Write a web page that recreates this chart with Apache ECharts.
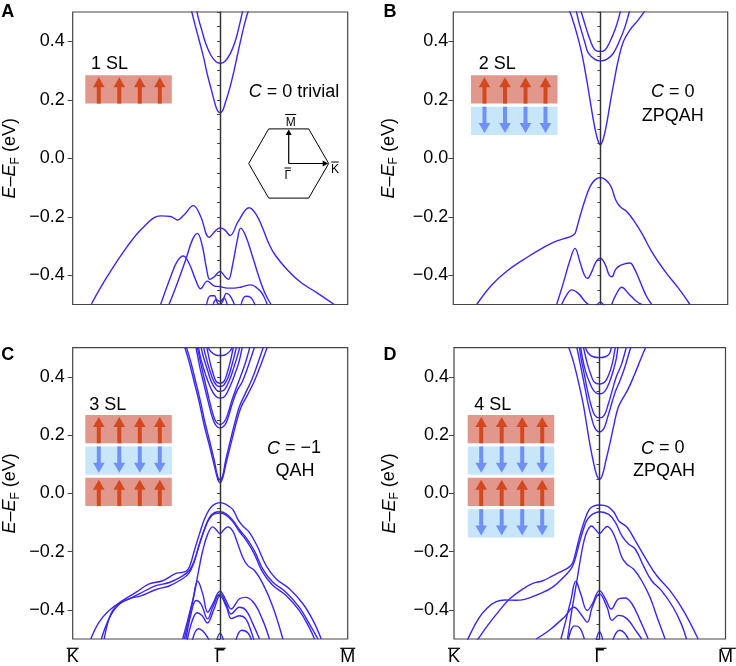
<!DOCTYPE html>
<html><head><meta charset="utf-8">
<script src="https://cdn.jsdelivr.net/npm/echarts@6/dist/echarts.min.js"></script>
<style>html,body{margin:0;padding:0;background:#fff}#c{width:736px;height:666px}</style>
</head><body><div id="c"></div>
<script>
// ---------- axis definitions ----------
const xMin = -1.1547, xMax = 1;
const xTickValues = [-1.1547, 0, 1];
const xTickLabels = ['K', 'Γ', 'M'];
const yMajorTicks = [-0.4, -0.2, 0, 0.2, 0.4];
const yMin = -0.5, yMax = 0.5, yMinorStep = 0.05;

// ---------- Panel A (1 SL) bands [k, E(eV)] ----------
const A_cb1 = [[-0.23,0.515],[-0.196,0.456],[-0.165,0.405],[-0.131,0.348],[-0.099,0.285],[-0.068,0.234],[-0.04,0.187],[-0.02,0.163],[0,0.156],[0.02,0.163],[0.04,0.188],[0.071,0.232],[0.102,0.285],[0.136,0.353],[0.168,0.416],[0.2,0.473],[0.23,0.515]];
const A_cb2 = [[-0.185,0.515],[-0.173,0.484],[-0.144,0.439],[-0.113,0.393],[-0.073,0.353],[-0.034,0.331],[0,0.325],[0.037,0.331],[0.079,0.357],[0.118,0.399],[0.149,0.45],[0.173,0.496],[0.18,0.515]];
const A_vb1 = [[-1.01,-0.5],[-0.885,-0.405],[-0.728,-0.302],[-0.597,-0.234],[-0.466,-0.197],[-0.387,-0.199],[-0.335,-0.211],[-0.283,-0.194],[-0.209,-0.162],[-0.152,-0.199],[-0.086,-0.27],[-0.034,-0.247],[0,-0.238],[0.037,-0.245],[0.079,-0.264],[0.141,-0.217],[0.228,-0.169],[0.28,-0.19],[0.33,-0.235],[0.38,-0.29],[0.43,-0.33],[0.53,-0.383],[0.634,-0.425],[0.76,-0.46],[0.895,-0.5]];
const A_vb2 = [[-0.4,-0.5],[-0.335,-0.427],[-0.27,-0.348],[-0.217,-0.279],[-0.178,-0.257],[-0.139,-0.3],[-0.105,-0.38],[-0.08,-0.414],[-0.045,-0.405],[0,-0.387],[0.04,-0.405],[0.065,-0.414],[0.1,-0.36],[0.135,-0.28],[0.162,-0.239],[0.2,-0.265],[0.25,-0.33],[0.3,-0.4],[0.35,-0.46],[0.4,-0.5]];
const A_vb3 = [[-0.466,-0.5],[-0.387,-0.405],[-0.335,-0.352],[-0.288,-0.334],[-0.243,-0.359],[-0.191,-0.416],[-0.152,-0.446],[-0.1,-0.42],[-0.047,-0.436],[0,-0.439],[0.058,-0.444],[0.11,-0.444],[0.168,-0.44],[0.24,-0.433],[0.306,-0.45],[0.34,-0.47],[0.37,-0.5]];
const A_vb4 = [[-0.11,-0.51],[-0.075,-0.47],[-0.045,-0.47],[-0.02,-0.495],[0,-0.5],[0.02,-0.49],[0.05,-0.462],[0.085,-0.475],[0.12,-0.51]];
const A_vb5 = [[0.16,-0.51],[0.2,-0.472],[0.24,-0.476],[0.28,-0.51]];
const A_vb6 = [[-0.06,-0.51],[-0.03,-0.483],[0,-0.49],[0.03,-0.478],[0.06,-0.51]];

// ---------- Panel B (2 SL) ----------
const B_cb1 = [[-0.251,0.513],[-0.225,0.484],[-0.178,0.416],[-0.141,0.348],[-0.107,0.268],[-0.081,0.199],[-0.055,0.131],[-0.034,0.085],[-0.016,0.057],[0,0.046],[0.016,0.057],[0.034,0.085],[0.055,0.131],[0.081,0.199],[0.11,0.268],[0.141,0.336],[0.181,0.399],[0.233,0.439],[0.298,0.473],[0.364,0.513]];
const B_cb2 = [[-0.194,0.515],[-0.173,0.473],[-0.147,0.433],[-0.12,0.393],[-0.094,0.359],[-0.042,0.338],[0,0.333],[0.05,0.338],[0.102,0.359],[0.154,0.405],[0.194,0.45],[0.233,0.51]];
const B_cb3 = [[-0.16,0.515],[-0.147,0.496],[-0.115,0.45],[-0.081,0.405],[-0.042,0.37],[0,0.365],[0.037,0.37],[0.076,0.399],[0.115,0.439],[0.147,0.484],[0.162,0.515]];
const B_vb1 = [[-0.971,-0.5],[-0.853,-0.433],[-0.723,-0.382],[-0.565,-0.336],[-0.435,-0.302],[-0.356,-0.285],[-0.277,-0.274],[-0.225,-0.266],[-0.2,-0.258],[-0.186,-0.24],[-0.16,-0.199],[-0.12,-0.142],[-0.081,-0.097],[-0.042,-0.074],[0,-0.066],[0.042,-0.074],[0.084,-0.097],[0.12,-0.142],[0.154,-0.165],[0.207,-0.182],[0.259,-0.211],[0.325,-0.256],[0.403,-0.319],[0.508,-0.387],[0.613,-0.444],[0.704,-0.5]];
const B_vb2 = [[-0.343,-0.5],[-0.291,-0.427],[-0.238,-0.348],[-0.199,-0.308],[-0.16,-0.355],[-0.125,-0.4],[-0.1,-0.41],[-0.07,-0.39],[-0.035,-0.355],[0,-0.342],[0.035,-0.36],[0.07,-0.4],[0.09,-0.405],[0.12,-0.38],[0.154,-0.367],[0.2,-0.36],[0.233,-0.358],[0.27,-0.38],[0.32,-0.43],[0.36,-0.47],[0.403,-0.5]];
const B_vb3 = [[-0.304,-0.5],[-0.264,-0.467],[-0.225,-0.45],[-0.173,-0.462],[-0.12,-0.49],[-0.094,-0.5]];
const B_vb4 = [[0.089,-0.5],[0.128,-0.462],[0.168,-0.441],[0.22,-0.462],[0.285,-0.49],[0.325,-0.5]];
const B_vb5 = [[-0.03,-0.505],[0,-0.492],[0.03,-0.505]];

// ---------- Panel C (3 SL) ----------
const C_cb1 = [[-0.283,0.51],[-0.243,0.452],[-0.204,0.384],[-0.165,0.316],[-0.126,0.236],[-0.086,0.168],[-0.047,0.099],[-0.021,0.053],[0,0.036],[0.021,0.053],[0.045,0.099],[0.084,0.168],[0.123,0.236],[0.162,0.293],[0.215,0.338],[0.267,0.384],[0.319,0.441],[0.372,0.505]];
const C_cb1b = [[-0.27,0.51],[-0.232,0.455],[-0.195,0.39],[-0.157,0.322],[-0.119,0.245],[-0.081,0.178],[-0.044,0.11],[-0.02,0.06],[0,0.046],[0.02,0.06],[0.042,0.11],[0.079,0.178],[0.117,0.245],[0.152,0.298],[0.2,0.345],[0.25,0.392],[0.3,0.452],[0.345,0.51]];
const C_cb2 = [[-0.191,0.505],[-0.183,0.487],[-0.157,0.43],[-0.126,0.373],[-0.094,0.316],[-0.06,0.26],[-0.034,0.234],[0,0.224],[0.037,0.234],[0.063,0.26],[0.097,0.31],[0.131,0.35],[0.175,0.384],[0.215,0.43],[0.254,0.481],[0.272,0.505]];
const C_cb2b = [[-0.18,0.505],[-0.148,0.44],[-0.118,0.383],[-0.088,0.327],[-0.056,0.272],[-0.032,0.246],[0,0.236],[0.034,0.246],[0.06,0.272],[0.093,0.32],[0.125,0.36],[0.16,0.4],[0.2,0.45],[0.235,0.505]];
const C_cb3 = [[-0.17,0.505],[-0.152,0.464],[-0.113,0.407],[-0.073,0.361],[-0.034,0.333],[0,0.327],[0.037,0.333],[0.084,0.373],[0.123,0.418],[0.149,0.452],[0.175,0.505]];
const C_cb4 = [[-0.15,0.505],[-0.135,0.475],[-0.1,0.425],[-0.065,0.38],[-0.03,0.356],[0,0.35],[0.035,0.356],[0.075,0.39],[0.11,0.435],[0.14,0.478],[0.155,0.505]];
const C_cb5 = [[-0.13,0.505],[-0.12,0.484],[-0.09,0.436],[-0.06,0.396],[-0.03,0.372],[0,0.367],[0.03,0.372],[0.065,0.4],[0.095,0.444],[0.12,0.487],[0.13,0.505]];
const C_cb6 = [[-0.105,0.505],[-0.08,0.452],[-0.055,0.412],[-0.03,0.384],[0,0.378],[0.03,0.384],[0.055,0.412],[0.08,0.452],[0.105,0.505]];
const C_cb7 = [[-0.1,0.505],[-0.073,0.487],[-0.034,0.475],[0,0.473],[0.037,0.475],[0.079,0.489],[0.097,0.505]];
const C_vb1 = [[-1.013,-0.5],[-0.948,-0.442],[-0.869,-0.402],[-0.764,-0.368],[-0.66,-0.34],[-0.555,-0.311],[-0.45,-0.3],[-0.346,-0.275],[-0.267,-0.268],[-0.236,-0.248],[-0.202,-0.197],[-0.162,-0.14],[-0.123,-0.089],[-0.084,-0.055],[-0.045,-0.038],[0,-0.032],[0.047,-0.038],[0.099,-0.055],[0.139,-0.089],[0.178,-0.112],[0.23,-0.134],[0.296,-0.186],[0.361,-0.248],[0.44,-0.294],[0.545,-0.328],[0.649,-0.379],[0.728,-0.436],[0.793,-0.5]];
const C_vb2 = [[-0.908,-0.5],[-0.856,-0.414],[-0.791,-0.379],[-0.712,-0.362],[-0.634,-0.345],[-0.503,-0.317],[-0.398,-0.306],[-0.293,-0.283],[-0.241,-0.265],[-0.202,-0.231],[-0.162,-0.174],[-0.123,-0.123],[-0.084,-0.083],[-0.045,-0.066],[0,-0.063],[0.047,-0.07],[0.099,-0.092],[0.152,-0.125],[0.204,-0.152],[0.27,-0.198],[0.335,-0.26],[0.414,-0.305],[0.518,-0.34],[0.623,-0.392],[0.702,-0.45],[0.767,-0.5]];
const C_vb3 = [[-0.93,-0.5],[-0.87,-0.43],[-0.8,-0.385],[-0.712,-0.362],[-0.62,-0.352],[-0.5,-0.33],[-0.4,-0.318],[-0.3,-0.295],[-0.245,-0.275],[-0.205,-0.238],[-0.165,-0.18],[-0.125,-0.128],[-0.085,-0.088],[-0.045,-0.07],[0,-0.068],[0.047,-0.075],[0.1,-0.097],[0.15,-0.13],[0.2,-0.158],[0.265,-0.205],[0.33,-0.268],[0.41,-0.315],[0.515,-0.35],[0.62,-0.402],[0.7,-0.462],[0.74,-0.5]];
const C_vb4 = [[-0.28,-0.5],[-0.241,-0.425],[-0.202,-0.345],[-0.168,-0.265],[-0.136,-0.197],[-0.097,-0.14],[-0.058,-0.115],[-0.03,-0.125],[0,-0.138],[0.03,-0.125],[0.06,-0.115],[0.099,-0.129],[0.139,-0.174],[0.178,-0.22],[0.217,-0.248],[0.27,-0.265],[0.335,-0.31],[0.414,-0.39],[0.492,-0.5]];
const C_vb5 = [[-0.293,-0.5],[-0.254,-0.436],[-0.215,-0.368],[-0.175,-0.302],[-0.136,-0.345],[-0.097,-0.408],[-0.058,-0.38],[0,-0.336],[0.047,-0.368],[0.086,-0.397],[0.152,-0.362],[0.204,-0.357],[0.27,-0.379],[0.335,-0.436],[0.387,-0.5]];
const C_vb6 = [[-0.267,-0.5],[-0.228,-0.414],[-0.188,-0.368],[-0.149,-0.38],[-0.097,-0.431],[-0.058,-0.391],[0,-0.345],[0.047,-0.379],[0.086,-0.414],[0.152,-0.391],[0.204,-0.402],[0.257,-0.448],[0.309,-0.5]];
const C_vb7 = [[-0.26,-0.51],[-0.22,-0.44],[-0.18,-0.41],[-0.14,-0.42],[-0.1,-0.445],[-0.05,-0.4],[0,-0.352],[0.05,-0.39],[0.09,-0.43],[0.15,-0.42],[0.2,-0.43],[0.24,-0.47],[0.27,-0.51]];
const C_vb8 = [[-0.22,-0.51],[-0.17,-0.465],[-0.12,-0.48],[-0.08,-0.51]];
const C_vb9 = [[0.12,-0.51],[0.17,-0.47],[0.22,-0.48],[0.25,-0.51]];
const C_vb10 = [[-0.03,-0.51],[0,-0.48],[0.03,-0.51]];

// ---------- Panel D (4 SL) ----------
const D_cb1 = [[-0.246,0.504],[-0.207,0.452],[-0.168,0.384],[-0.128,0.304],[-0.102,0.236],[-0.076,0.168],[-0.05,0.111],[-0.024,0.065],[0,0.048],[0.024,0.065],[0.05,0.111],[0.081,0.168],[0.115,0.236],[0.147,0.293],[0.186,0.327],[0.225,0.356],[0.277,0.407],[0.33,0.464],[0.369,0.504]];
const D_cb2 = [[-0.181,0.504],[-0.173,0.487],[-0.141,0.418],[-0.115,0.361],[-0.089,0.304],[-0.063,0.259],[-0.037,0.225],[0,0.211],[0.037,0.225],[0.063,0.259],[0.094,0.304],[0.126,0.35],[0.16,0.384],[0.199,0.43],[0.238,0.487],[0.251,0.504]];
const D_cb3 = [[-0.16,0.504],[-0.147,0.464],[-0.12,0.407],[-0.094,0.35],[-0.068,0.304],[-0.037,0.268],[0,0.259],[0.037,0.268],[0.068,0.304],[0.099,0.35],[0.134,0.401],[0.173,0.441],[0.204,0.487],[0.215,0.504]];
const D_cb4 = [[-0.15,0.504],[-0.135,0.464],[-0.11,0.418],[-0.076,0.378],[-0.042,0.35],[0,0.341],[0.042,0.35],[0.081,0.384],[0.115,0.43],[0.134,0.464],[0.147,0.504]];
const D_cb5 = [[-0.128,0.504],[-0.12,0.487],[-0.094,0.441],[-0.068,0.407],[-0.042,0.382],[0,0.375],[0.042,0.382],[0.073,0.407],[0.099,0.441],[0.12,0.487],[0.126,0.504]];
const D_cb6 = [[-0.115,0.504],[-0.089,0.481],[-0.05,0.469],[0,0.466],[0.047,0.469],[0.081,0.481],[0.094,0.504]];
const D_vb1 = [[-0.971,-0.505],[-0.89,-0.455],[-0.8,-0.405],[-0.712,-0.362],[-0.607,-0.328],[-0.529,-0.309],[-0.45,-0.3],[-0.372,-0.283],[-0.293,-0.266],[-0.25,-0.256],[-0.215,-0.24],[-0.19,-0.205],[-0.16,-0.152],[-0.12,-0.095],[-0.081,-0.055],[-0.042,-0.043],[0,-0.04],[0.063,-0.045],[0.115,-0.065],[0.154,-0.095],[0.22,-0.117],[0.285,-0.163],[0.377,-0.231],[0.455,-0.283],[0.56,-0.334],[0.665,-0.402],[0.783,-0.5]];
const D_vb2 = [[-1.05,-0.505],[-0.96,-0.43],[-0.895,-0.395],[-0.82,-0.372],[-0.75,-0.366],[-0.67,-0.367],[-0.594,-0.364],[-0.476,-0.345],[-0.372,-0.322],[-0.267,-0.28],[-0.225,-0.258],[-0.2,-0.235],[-0.162,-0.174],[-0.123,-0.117],[-0.097,-0.09],[-0.058,-0.072],[0,-0.063],[0.073,-0.072],[0.126,-0.1],[0.178,-0.146],[0.23,-0.174],[0.283,-0.191],[0.348,-0.248],[0.414,-0.3],[0.492,-0.334],[0.584,-0.391],[0.649,-0.448],[0.691,-0.5]];
const D_vb3 = [[-0.254,-0.5],[-0.228,-0.425],[-0.202,-0.357],[-0.175,-0.288],[-0.149,-0.22],[-0.123,-0.163],[-0.097,-0.129],[-0.063,-0.112],[-0.03,-0.125],[0,-0.138],[0.03,-0.125],[0.06,-0.114],[0.099,-0.129],[0.139,-0.169],[0.178,-0.22],[0.217,-0.243],[0.27,-0.26],[0.335,-0.3],[0.401,-0.357],[0.466,-0.436],[0.521,-0.5]];
const D_vb4 = [[-0.306,-0.5],[-0.267,-0.436],[-0.228,-0.368],[-0.188,-0.302],[-0.149,-0.345],[-0.097,-0.402],[-0.058,-0.38],[0,-0.334],[0.047,-0.362],[0.094,-0.397],[0.152,-0.362],[0.204,-0.359],[0.257,-0.379],[0.322,-0.436],[0.387,-0.5]];
const D_vb5 = [[-0.503,-0.5],[-0.398,-0.47],[-0.28,-0.425],[-0.202,-0.391],[-0.149,-0.414],[-0.097,-0.442],[-0.058,-0.391],[0,-0.345],[0.06,-0.391],[0.099,-0.436],[0.152,-0.419],[0.217,-0.43],[0.296,-0.476],[0.335,-0.5]];
const D_vb6 = [[-0.25,-0.51],[-0.2,-0.455],[-0.16,-0.46],[-0.12,-0.5]];
const D_vb7 = [[0.1,-0.51],[0.16,-0.47],[0.2,-0.48],[0.24,-0.51]];
const D_vb8 = [[-0.03,-0.51],[0,-0.475],[0.03,-0.51]];

// ---------- texts ----------
const panelLetters = ['A', 'B', 'C', 'D'];
const slLabels = ['1 SL', '2 SL', '3 SL', '4 SL'];
const slLayers = [['up'], ['up','down'], ['up','down','up'], ['up','down','up','down']];
const chernLabels = [['{i|C} = 0 trivial'], ['{i|C} = 0', 'ZPQAH'], ['{i|C} = −1', 'QAH'], ['{i|C} = 0', 'ZPQAH']];
const yAxisTitle = '{i|E}{n|–}{i|E}{s|F}{n| (eV)}';

// ---------- styling / layout ----------
const FONT = '"Liberation Sans", Arial, Helvetica, sans-serif';
const BAND = '#3a26f2';
const FRAME = '#444444';
const RED_BG = '#e1978c', RED_AR = '#d4481f', BLUE_BG = '#c7e6fa', BLUE_AR = '#7190f7';

const panels = [
  {grid:{left:72.7, top:12, width:275, height:292.5}, bands:[A_cb1,A_cb2,A_vb1,A_vb2,A_vb3,A_vb4,A_vb5,A_vb6], showX:false, margin:8, gap:51.5,
   letter:[7.8,12.5], inset:{x:85.3, y:75.3}, sl:[91,64], chern:[[294,92]]},
  {grid:{left:453.3, top:12, width:274.4, height:292.5}, bands:[B_cb1,B_cb2,B_cb3,B_vb1,B_vb2,B_vb3,B_vb4,B_vb5], showX:false, margin:5, gap:53.5,
   letter:[390,12.5], inset:{x:471, y:75.3}, sl:[478.7,64], chern:[[672.7,92],[672.7,116]]},
  {grid:{left:72.7, top:347.7, width:275, height:292.5}, bands:[C_cb1,C_cb1b,C_cb2,C_cb2b,C_cb3,C_cb4,C_cb5,C_cb6,C_cb7,C_vb1,C_vb2,C_vb3,C_vb4,C_vb5,C_vb6,C_vb7,C_vb8,C_vb9,C_vb10], showX:true, margin:8, gap:51.5,
   letter:[7.8,355], inset:{x:85.3, y:415}, sl:[89.3,405], chern:[[294,448.5],[295,471.5]]},
  {grid:{left:454, top:347.7, width:274.3, height:292.5}, bands:[D_cb1,D_cb2,D_cb3,D_cb4,D_cb5,D_cb6,D_vb1,D_vb2,D_vb3,D_vb4,D_vb5,D_vb6,D_vb7,D_vb8], showX:true, margin:5, gap:53.5,
   letter:[390,355], inset:{x:467.7, y:415}, sl:[474.3,405], chern:[[662.7,448.5],[664,471.5]]}
];

function fmtY(v){ const a = Math.abs(v).toFixed(1); return v < -1e-9 ? '−' + a : a; }
function fmtX(v){ let best = 0; xTickValues.forEach((t,i)=>{ if (Math.abs(t-v) < Math.abs(xTickValues[best]-v)) best = i; }); return xTickLabels[best]; }

const grids = [], xAxes = [], yAxes = [], series = [], graphics = [];

panels.forEach((p, i) => {
  grids.push({left:p.grid.left, top:p.grid.top, width:p.grid.width, height:p.grid.height, show:true, borderColor:FRAME, borderWidth:1.2, backgroundColor:'transparent'});
  xAxes.push({gridIndex:i, type:'value', min:xMin, max:xMax, axisLine:{show:false}, axisTick:{show:false}, splitLine:{show:false},
    axisLabel: p.showX ? {show:true, customValues:xTickValues, formatter:fmtX, fontSize:18, fontFamily:FONT, color:'#000', margin:9, showMinLabel:true, showMaxLabel:true} : {show:false}});
  yAxes.push({gridIndex:i, type:'value', min:yMin, max:yMax, interval:yMinorStep, position:'left',
    axisLine:{show:true, lineStyle:{color:FRAME, width:1.2}}, axisTick:{show:true, length:3, lineStyle:{color:FRAME}},
    axisLabel:{show:false}, splitLine:{show:false}});
  yAxes.push({gridIndex:i, type:'value', min:yMin, max:yMax, position:'left', offset:0,
    axisLine:{show:false}, axisTick:{show:true, customValues:yMajorTicks, length:5, lineStyle:{color:FRAME}},
    axisLabel:{show:true, customValues:yMajorTicks, formatter:fmtY, fontSize:18, fontFamily:FONT, color:'#000', margin:p.margin},
    splitLine:{show:false},
    name:yAxisTitle, nameLocation:'middle', nameRotate:90, nameGap:p.gap,
    nameTextStyle:{fontFamily:FONT, fontSize:18, color:'#000', rich:{
      i:{fontStyle:'italic', fontSize:18, fontFamily:FONT, lineHeight:22, color:'#000'},
      n:{fontSize:18, fontFamily:FONT, lineHeight:22, color:'#000'},
      s:{fontSize:12, fontFamily:FONT, lineHeight:12, verticalAlign:'bottom', color:'#000'}}}});
  p.bands.forEach((b, j) => {
    const s = {type:'line', xAxisIndex:i, yAxisIndex:2*i, data:b, showSymbol:false, symbol:'none', smooth:0.4,
      lineStyle:{color:BAND, width:1.4}, silent:true, animation:false, clip:true, z:2};
    if (j === 0) s.markLine = {silent:true, symbol:['none','none'], label:{show:false}, animation:false,
      lineStyle:{color:'#333', width:1.3, type:'solid'}, emphasis:{disabled:true}, data:[{xAxis:0}]};
    series.push(s);
  });

  // panel letter
  graphics.push({type:'text', x:p.letter[0], y:p.letter[1], style:{text:panelLetters[i], fontSize:18, fontWeight:'bold', fontFamily:FONT, fill:'#000', align:'center', verticalAlign:'middle', textAlign:'center', textVerticalAlign:'middle'}});
  // SL label
  graphics.push({type:'text', x:p.sl[0], y:p.sl[1], style:{text:slLabels[i], fontSize:18, fontFamily:FONT, fill:'#000', align:'left', verticalAlign:'middle', textAlign:'left', textVerticalAlign:'middle'}});
  // Chern labels
  chernLabels[i].forEach((t, k) => {
    graphics.push({type:'text', x:p.chern[k][0], y:p.chern[k][1], style:{text:t, fontSize:18, fontFamily:FONT, fill:'#000', align:'center', verticalAlign:'middle', textAlign:'center', textVerticalAlign:'middle',
      rich:{i:{fontStyle:'italic', fontSize:18, fontFamily:FONT, fill:'#000'}}}});
  });
  // layer schematic
  const RW = 86.5, RH = 28.3, PITCH = 31.4, offs = [13.5, 34, 54.5, 74.5];
  slLayers[i].forEach((dir, k) => {
    const rx = p.inset.x, ry = p.inset.y + k*PITCH;
    const up = dir === 'up';
    graphics.push({type:'rect', shape:{x:rx, y:ry, width:RW, height:RH}, style:{fill: up ? RED_BG : BLUE_BG}});
    const col = up ? RED_AR : BLUE_AR;
    offs.forEach(o => {
      const cx = rx + o;
      if (up) {
        const tip = ry + 2, hb = tip + 10;
        graphics.push({type:'polygon', shape:{points:[[cx,tip],[cx-5.8,hb],[cx+5.8,hb]]}, style:{fill:col}});
        graphics.push({type:'rect', shape:{x:cx-2, y:hb-0.5, width:4, height:ry+RH-hb+0.5}, style:{fill:col}});
      } else {
        const tip = ry + RH - 2, hb = tip - 10;
        graphics.push({type:'polygon', shape:{points:[[cx,tip],[cx-5.8,hb],[cx+5.8,hb]]}, style:{fill:col}});
        graphics.push({type:'rect', shape:{x:cx-2, y:ry, width:4, height:hb-ry+0.5}, style:{fill:col}});
      }
    });
  });
  // x tick label overlines
  if (p.showX) {
    const widths = [12, 11, 15];
    xTickValues.forEach((v, k) => {
      const px = p.grid.left + (v - xMin) / (xMax - xMin) * p.grid.width;
      graphics.push({type:'line', shape:{x1:px - widths[k]/2, y1:648.3, x2:px + widths[k]/2, y2:648.3}, style:{stroke:'#000', lineWidth:1.2}});
    });
  }
});

// Brillouin-zone inset in panel A
const hx = 288.7, hy = 163.5, hr = 40, hh = 34.6;
graphics.push({type:'polygon', shape:{points:[[hx-hr,hy],[hx-hr/2,hy-hh],[hx+hr/2,hy-hh],[hx+hr,hy],[hx+hr/2,hy+hh],[hx-hr/2,hy+hh]]}, style:{fill:'none', stroke:'#000', lineWidth:1}});
graphics.push({type:'line', shape:{x1:hx, y1:hy, x2:hx, y2:hy-hh+4}, style:{stroke:'#000', lineWidth:1.2}});
graphics.push({type:'polygon', shape:{points:[[hx,hy-hh+0.5],[hx-3,hy-hh+6],[hx+3,hy-hh+6]]}, style:{fill:'#000'}});
graphics.push({type:'line', shape:{x1:hx, y1:hy, x2:hx+hr-4, y2:hy}, style:{stroke:'#000', lineWidth:1.2}});
graphics.push({type:'polygon', shape:{points:[[hx+hr-0.5,hy],[hx+hr-6,hy-3],[hx+hr-6,hy+3]]}, style:{fill:'#000'}});
const bzLabels = [['M',290.7,122.5,11],['K',335,170,7.5],['Γ',287.7,176,6.5]];
bzLabels.forEach(([t,x,y,w]) => {
  graphics.push({type:'text', x:x, y:y, style:{text:t, fontSize:12, fontFamily:FONT, fill:'#000', align:'center', verticalAlign:'middle', textAlign:'center', textVerticalAlign:'middle'}});
  graphics.push({type:'line', shape:{x1:x-w/2, y1:y-8, x2:x+w/2, y2:y-8}, style:{stroke:'#000', lineWidth:1}});
});

const chart = echarts.init(document.getElementById('c'), null, {renderer:'canvas'});
chart.setOption({animation:false, backgroundColor:'#fff', grid:grids, xAxis:xAxes, yAxis:yAxes, series:series, graphic:{elements:graphics}});
</script></body></html>
